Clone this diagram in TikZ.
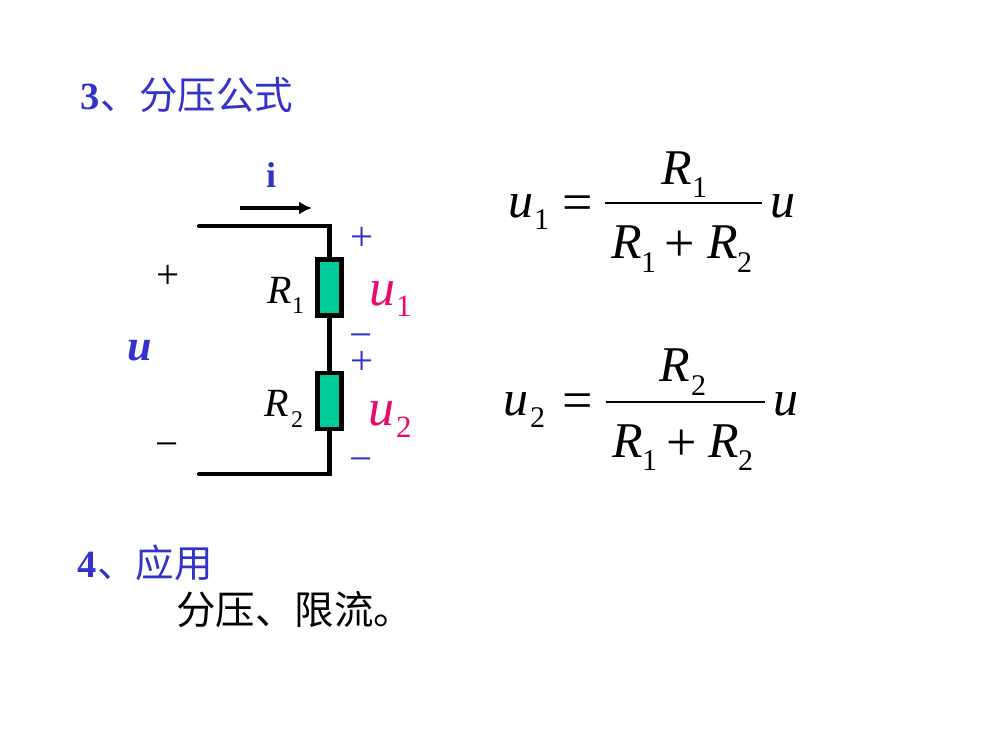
\documentclass[tikz,border=0pt]{standalone}
\usepackage{fontspec}
\setmainfont{Liberation Serif}
\newfontfamily\cjkfont{Noto Sans CJK SC}
\usetikzlibrary{arrows.meta}
\definecolor{headblue}{HTML}{3333CC}
\definecolor{upink}{HTML}{E8086E}
\definecolor{resgreen}{HTML}{00CC99}
\newcommand{\fs}[1]{\fontsize{#1}{#1}\selectfont}
\tikzset{
  txt/.style={inner sep=0pt,outer sep=0pt,anchor=base west},
  bigit/.style={txt,font=\fs{50}\itshape},
  bigsub/.style={txt,font=\fs{30}},
  bigop/.style={inner sep=0pt,outer sep=0pt,anchor=base,font=\fs{54}},
  midit/.style={txt,font=\fs{40}\itshape},
  midsub/.style={txt,font=\fs{24}},
  pinkit/.style={txt,font=\fs{52}\itshape,text=upink},
  pinksub/.style={txt,font=\fs{31},text=upink},
  sign/.style={inner sep=0pt,outer sep=0pt,anchor=base,font=\fs{41}},
  wire/.style={line width=4.2pt,line cap=round,line join=miter,black},
  fracbar/.style={line width=2.2pt,black},
  resistor/.style={draw=black,line width=4.2pt,fill=resgreen,minimum width=24pt,minimum height=56pt,inner sep=0pt,outer sep=2.1pt},
  heading/.style={txt,font=\fs{38.5},text=headblue},
}
\begin{document}
\begin{tikzpicture}[x=1pt,y=-1pt]
\useasboundingbox (0,0) rectangle (1000,750);
% headings
\node[heading] (h3) at (80,109) {\textbf{3}\hspace*{1.5pt}{\cjkfont 、分压公式}};
\node[heading] (h4) at (77,577) {\textbf{4}\hspace*{1pt}{\cjkfont 、应用}};
\node[txt,font=\fs{39.5}] (body) at (176,624) {\cjkfont 分压、限流。};
% circuit
\node[resistor] (R1box) at (329.5,287.5) {};
\node[resistor] (R2box) at (329.5,401) {};
\coordinate (tl) at (199,226);
\coordinate (tr) at (329.5,226);
\coordinate (bl) at (199,474);
\coordinate (br) at (329.5,474);
\draw[wire] (tl) -- (tr) -- (R1box.north);
\draw[wire] (R1box.south) -- (R2box.north);
\draw[wire] (R2box.south) -- (br) -- (bl);
\coordinate (ia) at (240,208);
\coordinate (ib) at (312,208);
\draw[line width=3.4pt,black,-{Latex[length=13pt,width=13pt]}] (ia) -- (ib);
\node[inner sep=0pt,anchor=base,font=\fs{36}\bfseries,text=headblue] (ilab) at (271,187) {i};
\node[txt,font=\fs{44}\bfseries\itshape,text=headblue] (ulab) at (127,360) {u};
\node[sign,text=black] (pb) at (168,288) {+};
\node[sign,text=black] (mb) at (167,457) {−};
\node[sign,text=headblue] (p1) at (362,250) {+};
\node[sign,text=headblue] (m1) at (361,348) {−};
\node[sign,text=headblue] (p2) at (362,374) {+};
\node[sign,text=headblue] (m2) at (361,472) {−};
\node[midit] (cR1) at (267,303) {R};
\node[midsub] (cR1s) at (292,313) {1};
\node[midit] (cR2) at (264,416) {R};
\node[midsub] (cR2s) at (291,427) {2};
\node[pinkit] (cu1) at (369,305) {u};
\node[pinksub] (cu1s) at (396,316) {1};
\node[pinkit] (cu2) at (368,425) {u};
\node[pinksub] (cu2s) at (396,437) {2};
% formula 1
\node[bigit] (au) at (508,217) {u};
\node[bigsub] (aus) at (534,229) {1};
\node[bigop] (aeq) at (578,220) {=};
\coordinate (a0) at (605,203);
\coordinate (a1) at (762,203);
\draw[fracbar] (a0) -- (a1);
\node[bigit] (aR) at (661,184) {R};
\node[bigsub] (aRs) at (692,197) {1};
\node[bigit] (adR1) at (611,258) {R};
\node[bigsub] (adR1s) at (641,272) {1};
\node[bigop] (apl) at (680,261) {+};
\node[bigit] (adR2) at (707,258) {R};
\node[bigsub] (adR2s) at (737,272) {2};
\node[bigit] (aut) at (770,217) {u};
% formula 2
\node[bigit] (bu) at (503,415) {u};
\node[bigsub] (bus) at (530,427) {2};
\node[bigop] (beq) at (578,418) {=};
\coordinate (b0) at (606,402);
\coordinate (b1) at (765,402);
\draw[fracbar] (b0) -- (b1);
\node[bigit] (bR) at (659,381) {R};
\node[bigsub] (bRs) at (691,395) {2};
\node[bigit] (bdR1) at (612,457) {R};
\node[bigsub] (bdR1s) at (642,470) {1};
\node[bigop] (bpl) at (682,460) {+};
\node[bigit] (bdR2) at (708,457) {R};
\node[bigsub] (bdR2s) at (738,470) {2};
\node[bigit] (but) at (773,415) {u};
\end{tikzpicture}
\end{document}
